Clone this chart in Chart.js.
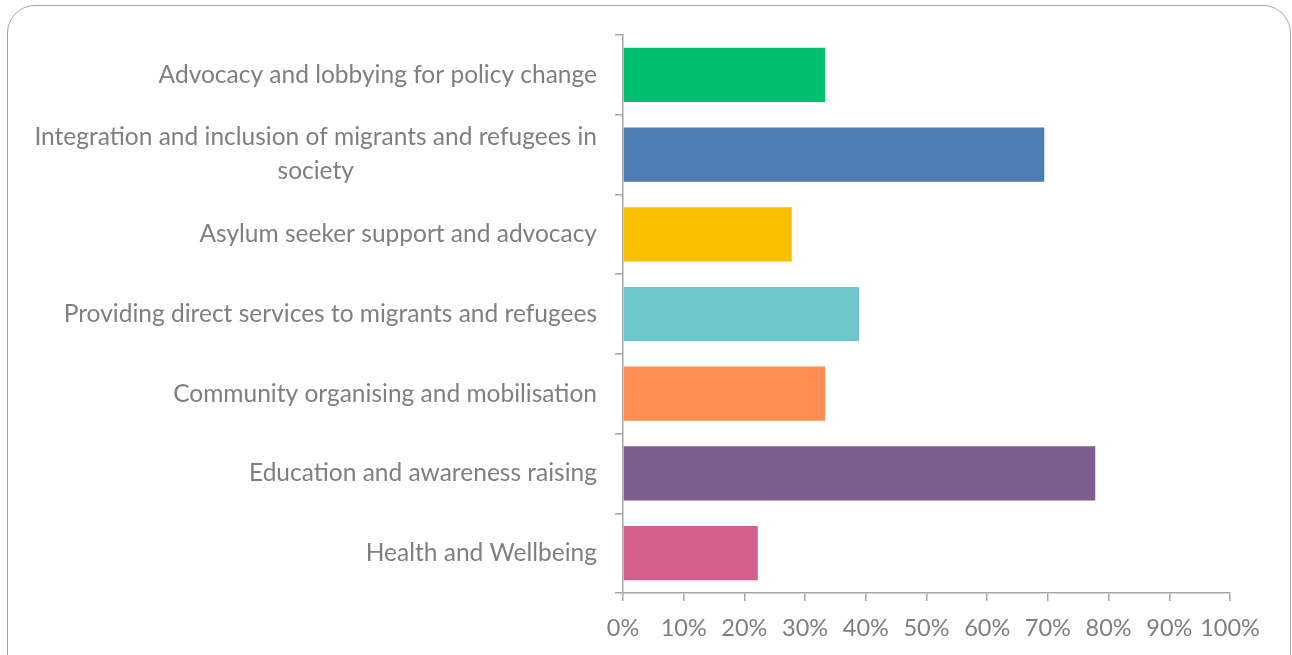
<!DOCTYPE html>
<html><head><meta charset="utf-8">
<script src="https://cdn.jsdelivr.net/npm/chart.js@4/dist/chart.umd.min.js"></script>
<style>
html,body{margin:0;padding:0;background:#fff;width:1292px;height:655px;overflow:hidden;}
#frame{position:absolute;left:7px;top:5px;width:1284px;height:720px;border:1.5px solid #a6a6a6;border-radius:28px;box-sizing:border-box;}
#wrap{position:absolute;left:0;top:0;width:1292px;height:655px;}
</style></head>
<body>
<div id="frame"></div>
<div id="wrap"><canvas id="c" width="1292" height="655"></canvas></div>
<script>
const categories = [
  ["Advocacy and lobbying for policy change"],
  ["Integration and inclusion of migrants and refugees in", "society"],
  ["Asylum seeker support and advocacy"],
  ["Providing direct services to migrants and refugees"],
  ["Community organising and mobilisation"],
  ["Education and awareness raising"],
  ["Health and Wellbeing"]
];
const values = [33.3, 69.4, 27.8, 38.9, 33.3, 77.8, 22.2];
const barColors = ["#00BF6F", "#4E7CB5", "#F8BF00", "#6CC8CC", "#FF8C50", "#7D5E8F", "#D45F8F"];
const xTicks = [0, 10, 20, 30, 40, 50, 60, 70, 80, 90, 100];

const FONT = "Lato, 'Open Sans', sans-serif";
const TEXT = "#7f7f7f";
const AXIS = "#a6a6a6";

const yLabelPlugin = {
  id: 'yLabels',
  afterDraw(chart) {
    const ctx = chart.ctx, ys = chart.scales.y;
    ctx.save();
    ctx.font = "24.5px " + FONT;
    ctx.fillStyle = TEXT;
    ctx.textBaseline = 'middle';
    const rightEdge = ys.right - 26;
    const lh = 34;
    categories.forEach((lines, i) => {
      const cy = ys.getPixelForValue(i);
      const widths = lines.map(l => ctx.measureText(l).width);
      const maxW = Math.max(...widths);
      const blockCenter = rightEdge - maxW / 2;
      lines.forEach((l, j) => {
        const y = cy + (j - (lines.length - 1) / 2) * lh;
        ctx.textAlign = 'center';
        ctx.fillText(l, blockCenter, y);
      });
    });
    ctx.restore();
  }
};

new Chart(document.getElementById('c'), {
  type: 'bar',
  data: {
    labels: categories.map(c => c.join(' ')),
    datasets: [{
      data: values,
      backgroundColor: barColors,
      borderWidth: 0,
      barPercentage: 0.68,
      categoryPercentage: 1.0
    }]
  },
  options: {
    indexAxis: 'y',
    responsive: false,
    animation: false,
    events: [],
    layout: { padding: { top: 35, right: 62, left: 0, bottom: 0 } },
    plugins: { legend: { display: false }, tooltip: { enabled: false } },
    scales: {
      x: {
        min: 0, max: 100,
        afterFit(s) { s.height = 62; },
        afterBuildTicks(s) { s.ticks = xTicks.map(v => ({ value: v })); },
        ticks: {
          callback: v => v + '%',
          color: TEXT,
          font: { family: FONT, size: 23.5 },
          padding: 13,
          maxRotation: 0,
          autoSkip: false
        },
        grid: { drawOnChartArea: false, drawTicks: true, tickLength: 8, color: AXIS, lineWidth: 1.5 },
        border: { color: AXIS, width: 1.5 }
      },
      y: {
        afterFit(s) { s.width = 623; },
        ticks: { display: false },
        grid: { drawOnChartArea: false, drawTicks: true, tickLength: 8, color: AXIS, lineWidth: 1.5, offset: true },
        border: { color: AXIS, width: 1.5 }
      }
    }
  },
  plugins: [yLabelPlugin]
});
</script>
</body></html>
